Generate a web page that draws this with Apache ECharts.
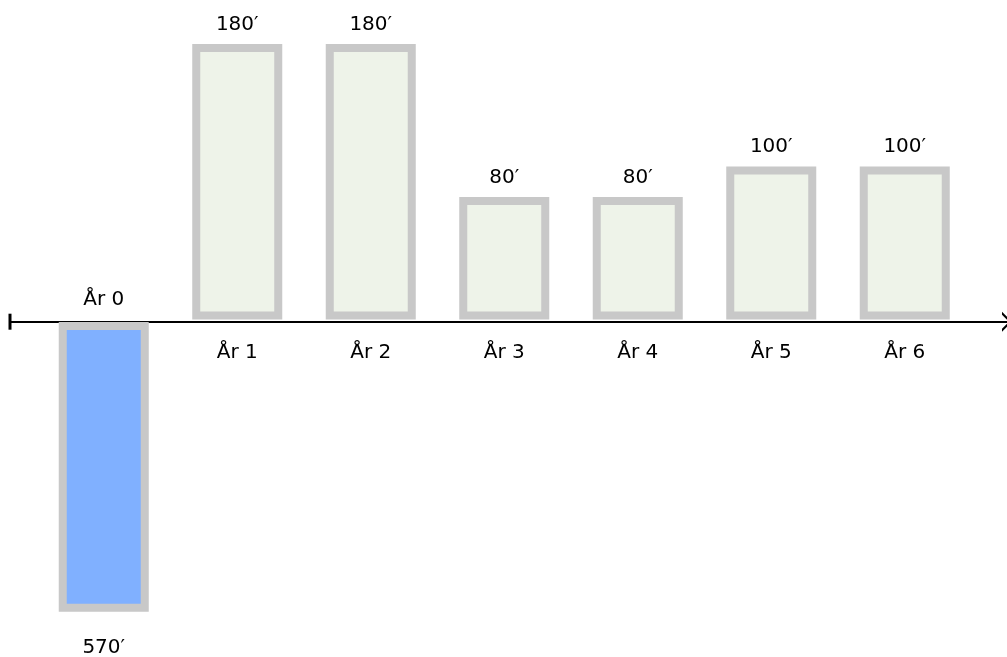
<!DOCTYPE html>
<html>
<head>
<meta charset="utf-8">
<title>Kassaflöde</title>
<script src="https://cdn.jsdelivr.net/npm/echarts@6/dist/echarts.min.js"></script>
<style>
    html, body { margin: 0; padding: 0; background: #fff; }
    #cashflow-chart { width: 1007px; height: 657px; }
</style>
</head>
<body>
<div id="cashflow-chart"></div>
<script>
// data
var years = ['År 0', 'År 1', 'År 2', 'År 3', 'År 4', 'År 5', 'År 6'];
var inflows = [null, 180, 180, 80, 80, 100, 100];
var outflows = [-570, null, null, null, null, null, null];

var font = 'DejaVu Sans, Verdana, sans-serif';

function cashflowChart(){
    var chart = echarts.init(document.getElementById('cashflow-chart'));

    // end symbols of the axis line: a tick at the start, an open arrow at the end
    var tickPath = 'path://M0,0 M20,10 M2,3.5 L18,3.5 L18,6.5 L2,6.5 Z';
    var arrowPath = 'path://M0,10 L10,0 L20,10 L17,10 L10,3 L3,10 Z';

    var option = {
        animation: false,
        textStyle: {fontFamily: font},
        grid: [
            // positive years
            {left: 37, right: 35.5, top: 13.5, bottom: 335.3},
            // investment (year 0), own scale
            {left: 37, right: 35.5, top: 322, bottom: 30},
            // only for the long axis line
            {left: 10, right: -2, top: 300, bottom: 335.3}
        ],
        xAxis: [
            {
                type: 'category', gridIndex: 0, data: years, position: 'bottom',
                axisLine: {show: false, onZero: false},
                axisTick: {show: false},
                axisLabel: {
                    margin: 21, fontSize: 20, color: '#000', fontFamily: font,
                    formatter: function (v, i) { return i === 0 ? '' : v; }
                }
            },
            {
                type: 'category', gridIndex: 1, data: years, position: 'top',
                axisLine: {show: false, onZero: false},
                axisTick: {show: false},
                axisLabel: {
                    margin: 12, fontSize: 20, color: '#000', fontFamily: font,
                    formatter: function (v, i) { return i === 0 ? v : ''; }
                }
            },
            {
                type: 'value', gridIndex: 2, min: 0, max: 1, position: 'bottom',
                axisLine: {
                    show: true, onZero: false,
                    lineStyle: {color: '#000', width: 2},
                    symbol: [tickPath, arrowPath],
                    symbolSize: [20, 10]
                },
                axisTick: {show: false},
                axisLabel: {show: false},
                splitLine: {show: false}
            }
        ],
        yAxis: [
            {type: 'value', gridIndex: 0, min: -1.44, max: 200, show: false, splitLine: {show: false}},
            {type: 'value', gridIndex: 1, min: -600, max: 0, show: false, splitLine: {show: false}},
            {type: 'value', gridIndex: 2, min: 0, max: 1, show: false, splitLine: {show: false}}
        ],
        series: [
            {
                name: 'Inbetalningar',
                type: 'bar',
                xAxisIndex: 0,
                yAxisIndex: 0,
                barWidth: 90,
                data: inflows,
                itemStyle: {color: '#eef3e9', borderColor: '#c8c8c8', borderWidth: 8},
                label: {
                    show: true, position: 'top', distance: 9.5,
                    fontSize: 20, color: '#000', fontFamily: font,
                    formatter: function (p) { return p.value + '′'; }
                }
            },
            {
                name: 'Investering',
                type: 'bar',
                xAxisIndex: 1,
                yAxisIndex: 1,
                barWidth: 90,
                data: outflows,
                itemStyle: {color: '#80b0ff', borderColor: '#c8c8c8', borderWidth: 8},
                label: {
                    show: true, position: 'bottom', distance: 26,
                    fontSize: 20, color: '#000', fontFamily: font,
                    formatter: function (p) { return Math.abs(p.value) + '′'; }
                }
            }
        ]
    };
    chart.setOption(option);
}

cashflowChart();
</script>
</body>
</html>
